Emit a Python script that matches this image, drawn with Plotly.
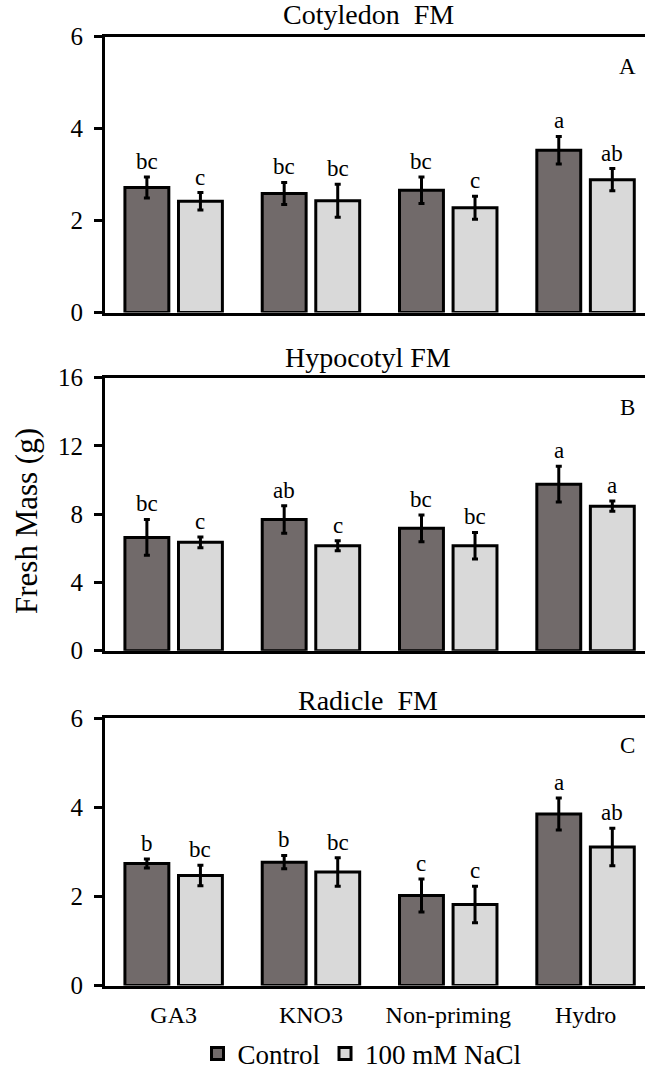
import plotly.graph_objects as go

categories = ["GA3", "KNO3", "Non-priming", "Hydro"]
series_names = ["Control", "100 mM NaCl"]
panel_titles = ["Cotyledon  FM", "Hypocotyl FM", "Radicle  FM"]
panel_labels = ["A", "B", "C"]

cot_control = [2.72, 2.59, 2.66, 3.53]
cot_control_err = [0.23, 0.24, 0.29, 0.30]
cot_nacl = [2.42, 2.43, 2.28, 2.89]
cot_nacl_err = [0.19, 0.36, 0.25, 0.24]
cot_letters_control = ["bc", "bc", "bc", "a"]
cot_letters_nacl = ["c", "bc", "c", "ab"]

hyp_control = [6.64, 7.69, 7.17, 9.76]
hyp_control_err = [1.05, 0.80, 0.79, 1.05]
hyp_nacl = [6.35, 6.15, 6.15, 8.47]
hyp_nacl_err = [0.32, 0.29, 0.78, 0.30]
hyp_letters_control = ["bc", "ab", "bc", "a"]
hyp_letters_nacl = ["c", "c", "bc", "a"]

rad_control = [2.74, 2.77, 2.02, 3.85]
rad_control_err = [0.10, 0.15, 0.37, 0.36]
rad_nacl = [2.47, 2.55, 1.82, 3.11]
rad_nacl_err = [0.23, 0.32, 0.41, 0.42]
rad_letters_control = ["b", "b", "c", "a"]
rad_letters_nacl = ["bc", "bc", "c", "ab"]

y_maxes = [6, 16, 6]
y_dticks = [2, 4, 2]

panels = [
    (cot_control, cot_control_err, cot_nacl, cot_nacl_err, cot_letters_control, cot_letters_nacl),
    (hyp_control, hyp_control_err, hyp_nacl, hyp_nacl_err, hyp_letters_control, hyp_letters_nacl),
    (rad_control, rad_control_err, rad_nacl, rad_nacl_err, rad_letters_control, rad_letters_nacl),
]

FONT = "Liberation Serif"
colors = ["#716a6a", "#d9d9d9"]

W, H = 645, 1070
L = 105
# pixel geometry of panels (top, zero)
panel_px = [(36.7, 312.5), (377.7, 650.7), (718.3, 985.5)]
title_py = [15, 357, 700]
label_py = [67, 407, 745]

BARGAP = 0.22
BARGROUPGAP = 0.18
offset = (1 - BARGAP) / 4

fig = go.Figure()
annotations = []
layout = {}
for i, (c, ce, n, ne, lc, ln) in enumerate(panels):
    sfx = "" if i == 0 else str(i + 1)
    xa, ya = "x" + sfx, "y" + sfx
    for j, (vals, errs, letters) in enumerate([(c, ce, lc), (n, ne, ln)]):
        fig.add_trace(go.Bar(
            x=categories, y=vals, name=series_names[j],
            xaxis=xa, yaxis=ya, showlegend=(i == 0),
            marker=dict(color=colors[j], line=dict(color="black", width=3)),
            error_y=dict(type="data", array=errs, visible=True,
                         color="black", thickness=3, width=3),
            offsetgroup=str(j),
        ))
        sign = -1 if j == 0 else 1
        for k, (v, e, t) in enumerate(zip(vals, errs, letters)):
            annotations.append(dict(
                x=k + sign * offset, y=v + e, xref=xa, yref=ya,
                text=t, showarrow=False, yanchor="bottom", yshift=1,
                font=dict(family=FONT, size=23, color="black")))
    top, zero = panel_px[i]
    layout["yaxis" + sfx] = dict(
        domain=[1 - zero / H, 1 - top / H], range=[0, y_maxes[i]], dtick=y_dticks[i],
        anchor=xa, showline=True, linecolor="black", linewidth=3,
        ticks="outside", ticklen=8, tickwidth=3, tickcolor="black",
        showgrid=False, zeroline=False, ticklabelstandoff=6, automargin=False,
        tickfont=dict(family=FONT, size=25, color="black"))
    layout["xaxis" + sfx] = dict(
        domain=[0, 1], range=[-0.5, -0.5 + (W - L) / 137.3], anchor=ya,
        showline=True, mirror=True, linecolor="black", linewidth=3,
        ticks="", showgrid=False, zeroline=False, automargin=False,
        showticklabels=(i == 2), ticklabelstandoff=6,
        tickfont=dict(family=FONT, size=24, color="black"),
        type="category")
    annotations.append(dict(
        x=(368 - L) / (W - L), y=1 - title_py[i] / H, xref="paper", yref="paper",
        text=panel_titles[i].replace("  ", "&nbsp; "), showarrow=False,
        xanchor="center", yanchor="middle",
        font=dict(family=FONT, size=28, color="black")))
    annotations.append(dict(
        x=(627 - L) / (W - L), y=1 - label_py[i] / H, xref="paper", yref="paper",
        text=panel_labels[i], showarrow=False, xanchor="center", yanchor="middle",
        font=dict(family=FONT, size=23, color="black")))

annotations.append(dict(
    x=(26 - L) / (W - L), y=1 - 521 / H, xref="paper", yref="paper",
    text="Fresh Mass (g)", textangle=-90, showarrow=False,
    xanchor="center", yanchor="middle",
    font=dict(family=FONT, size=31, color="black")))

fig.update_layout(
    width=W, height=H,
    margin=dict(l=L, r=0, t=0, b=0, autoexpand=False),
    paper_bgcolor="white", plot_bgcolor="white",
    barmode="group", bargap=BARGAP, bargroupgap=BARGROUPGAP,
    showlegend=True,
    legend=dict(orientation="h", x=362 / W, xref="container",
                y=1 - 1054 / H, yref="container",
                xanchor="center", yanchor="middle",
                bgcolor="rgba(0,0,0,0)",
                font=dict(family=FONT, size=27, color="black"),
                itemwidth=30, tracegroupgap=0),
    annotations=annotations,
    **layout,
)

fig.write_html("out.html")
